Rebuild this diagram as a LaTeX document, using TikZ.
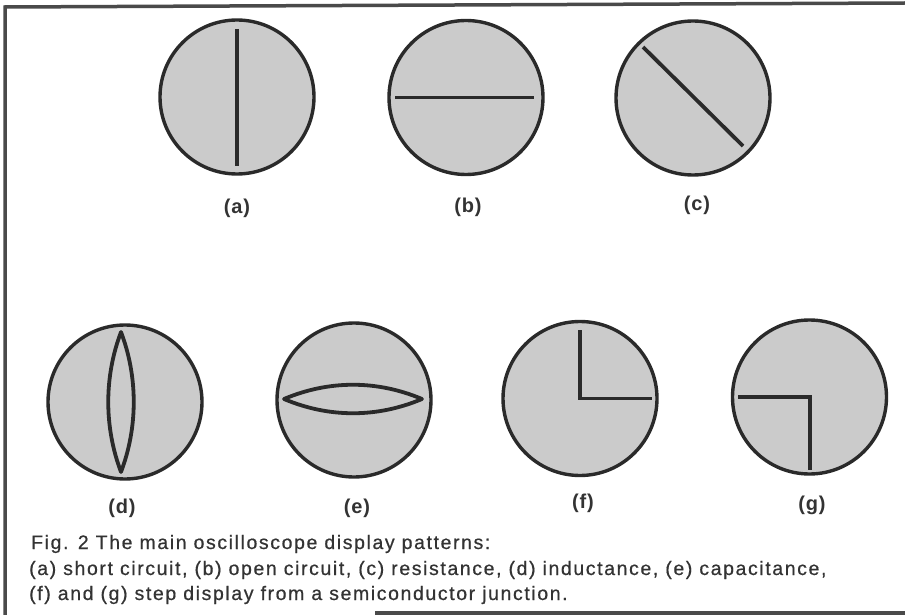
\documentclass[tikz,border=0pt]{standalone}
\usepackage{fontspec}
\setmainfont{Liberation Sans}
\newfontfamily\capfont[LetterSpace=8.2,FakeBold=0.6]{Liberation Sans}
\newfontfamily\tagfont[LetterSpace=4]{Liberation Sans}
\usetikzlibrary{calc}
\definecolor{ink}{HTML}{2A2A2A}
\definecolor{screenfill}{HTML}{CBCBCB}
\definecolor{txt}{HTML}{333333}
\begin{document}
\begin{tikzpicture}[x=1pt,y=-1pt,
  screen/.style={circle,draw=ink,fill=screenfill,line width=3.4pt,minimum size=154pt,inner sep=0pt},
  trace/.style={draw=ink,line width=3.8pt,line join=miter},
  tag/.style={font=\tagfont\fontsize{20}{22}\selectfont\bfseries,text=txt,inner sep=0pt},
  captext/.style={anchor=base west,inner sep=0pt,text=txt,font=\capfont\fontsize{19.5}{22}\selectfont},
  frame/.style={draw=ink!85,line width=3.5pt}]
\useasboundingbox (0,0) rectangle (905,615);
% frame
\coordinate (fbl) at (5,615);
\coordinate (ftl) at (5,7);
\coordinate (ftr) at (905,3);
\coordinate (fbs) at (375,613);
\coordinate (fbe) at (905,613);
\draw[frame] (fbl) -- (ftl) -- (ftr);
\draw[frame] (fbs) -- (fbe);
% screens
\node[screen] (sa) at (237,97) {};
\node[screen] (sb) at (466,97.5) {};
\node[screen] (sc) at (693,98) {};
\node[screen] (sd) at (125,402) {};
\node[screen] (se) at (354,400) {};
\node[screen] (sf) at (580,398.5) {};
\node[screen] (sg) at (809.5,397) {};
% (a) short circuit
\draw[trace] ($(sa)+(0,-68)$) -- ($(sa)+(0,69)$);
% (b) open circuit
\draw[trace] ($(sb)+(-71,0)$) -- ($(sb)+(68,0)$);
% (c) resistance
\draw[trace] ($(sc)+(-50,-51)$) -- ($(sc)+(50,48)$);
% (d) inductance
\coordinate (dtop) at (121,332);
\coordinate (dbot) at (121,472);
\draw[trace,line cap=round,line join=round] (dtop) .. controls ($(dtop)+(-17,45)$) and ($(dbot)+(-17,-45)$) .. (dbot)
  .. controls ($(dbot)+(17,-45)$) and ($(dtop)+(17,45)$) .. (dtop) -- cycle;
% (e) capacitance
\coordinate (eleft) at (284,399);
\coordinate (eright) at (422,399);
\draw[trace,line cap=round,line join=round] (eleft) .. controls ($(eleft)+(45,-19)$) and ($(eright)+(-45,-19)$) .. (eright)
  .. controls ($(eright)+(-45,19)$) and ($(eleft)+(45,19)$) .. (eleft) -- cycle;
% (f) step
\draw[trace] ($(sf)+(0,-68.5)$) -- ($(sf)+(0,0)$) -- ($(sf)+(72,0)$);
% (g) step
\draw[trace] ($(sg)+(-71.5,0)$) -- ($(sg)+(0.5,0)$) -- ($(sg)+(0.5,73)$);
% labels
\node[tag] (la) at (237,208) {(a)};
\node[tag] (lb) at (468,207) {(b)};
\node[tag] (lc) at (697,205) {(c)};
\node[tag] (ld) at (122,508) {(d)};
\node[tag] (le) at (357,508) {(e)};
\node[tag] (lf) at (583,503) {(f)};
\node[tag] (lg) at (812,505) {(g)};
% caption
\node[captext] (cap1) at (31,549) {Fig. 2 The main oscilloscope display patterns:};
\node[captext] (cap2) at (29,575) {(a) short circuit, (b) open circuit, (c) resistance, (d) inductance, (e) capacitance,};
\node[captext] (cap3) at (29,600) {(f) and (g) step display from a semiconductor junction.};
\end{tikzpicture}
\end{document}
